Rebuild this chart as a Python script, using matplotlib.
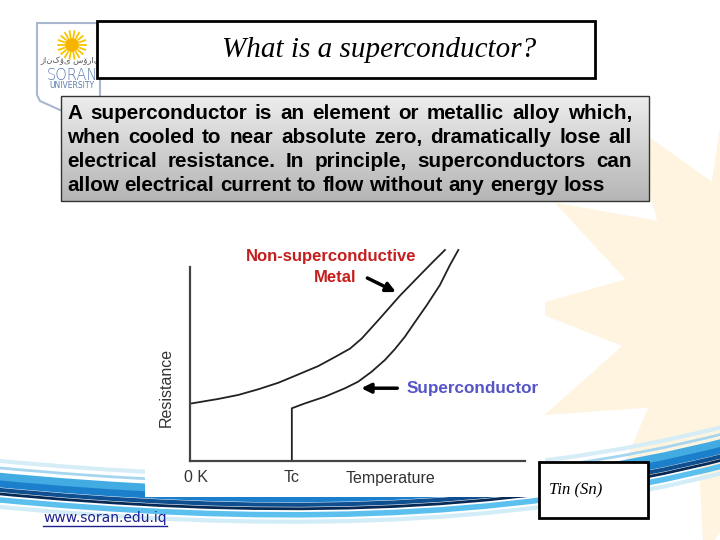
import numpy as np
import matplotlib.pyplot as plt
from matplotlib.patches import Rectangle, Polygon, Circle, PathPatch
from matplotlib.path import Path

# resistance vs temperature (arbitrary units, 0-100)
metal_temp = [0.5, 8.4, 14.4, 20.4, 26.4, 32.3, 38.3, 43.3, 47.8, 51.3, 56.7, 62.7, 68.7, 72.6, 76.1]
metal_res = [27.3, 29.4, 31.3, 34.0, 37.1, 41.0, 45.0, 49.3, 53.3, 58.1, 67.6, 78.4, 88.2, 94.5, 100]

tc = 30.4
super_temp = [tc, tc, 34.3, 40.3, 46.3, 50.2, 54.2, 58.2, 61.2, 64.2, 66.7, 70.7, 74.6, 77.6, 80.1]
super_res = [0, 25.0, 27.3, 30.5, 34.5, 37.6, 42.3, 47.9, 53.1, 59.0, 64.8, 73.9, 83.4, 92.9, 100]

x_labels = ['0 K', 'Tc', 'Temperature']
y_label = 'Resistance'
metal_label = ['Non-superconductive', 'Metal']
super_label = 'Superconductor'

title = 'What is a superconductor?'
body_lines = [
    'A superconductor is an element or metallic alloy which,',
    'when cooled to near absolute zero, dramatically lose all',
    'electrical resistance. In principle, superconductors can',
    'allow electrical current to flow without any energy loss',
]
note = 'Tin (Sn)'
url = 'www.soran.edu.iq'

fig = plt.figure(figsize=(7.2, 5.4), dpi=100)
bg = fig.add_axes([0, 0, 1, 1])
bg.set_xlim(0, 720)
bg.set_ylim(540, 0)
bg.axis('off')

# --- background decoration: pale starburst on the right ---
n = 14
ang = np.linspace(0, 2 * np.pi, 2 * n, endpoint=False) + 0.05
rad = np.where(np.arange(2 * n) % 2 == 0, 245, 150)
star = np.column_stack([770 + rad * np.cos(ang), 320 + rad * np.sin(ang)])
bg.add_patch(Polygon(star, closed=True, fc='#FEF4E0', ec='none', zorder=0))


# --- blue swoosh at the bottom ---
def swoosh(y0, color, lw):
    verts = [(-10, y0), (250, y0 + 25), (500, y0 + 25), (730, y0 - 35)]
    p = Path(verts, [Path.MOVETO, Path.CURVE4, Path.CURVE4, Path.CURVE4])
    bg.add_patch(PathPatch(p, fc='none', ec=color, lw=lw, zorder=1, capstyle='butt'))


for y0, c, lw in [(460, '#d6edf8', 3), (467, '#a6d6ef', 2), (476, '#42ace2', 6),
                  (483, '#1b7fcc', 5), (489, '#0f4f8f', 3), (493, '#062a55', 2),
                  (499, '#5cc0ee', 4), (506, '#d3edf8', 3)]:
    swoosh(y0, c, lw)

# --- logo ---
shield = [(37, 23), (100, 23), (100, 110), (60, 110), (40, 101), (37, 95)]
bg.add_patch(Polygon(shield, closed=True, fc='white', ec='#a9b8cf', lw=1.5, zorder=2))
bg.add_patch(Circle((72, 45), 7, fc='#F6B400', ec='none', zorder=3))
for a in np.linspace(0, 2 * np.pi, 18, endpoint=False):
    bg.plot([72 + 8 * np.cos(a), 72 + 14 * np.cos(a)], [45 + 8 * np.sin(a), 45 + 14 * np.sin(a)],
            color='#F8C400', lw=1.3, zorder=3)
bg.text(70, 61, 'زانکۆی سۆران', fontsize=6, color='#555555', ha='center', va='center',
        family='DejaVu Sans', zorder=3)
bg.text(72, 75, 'SORAN', fontsize=10.5, color='#5a7bb0', ha='center', va='center',
        family='DejaVu Sans', fontweight='light', zorder=3)
bg.text(72, 86, 'UNIVERSITY', fontsize=5.5, color='#5a7bb0', ha='center', va='center',
        family='DejaVu Sans', zorder=3)

# --- title box ---
bg.add_patch(Rectangle((97, 21), 498, 57, fc='white', ec='black', lw=2, zorder=4))
bg.text(379, 50, title, fontsize=21, style='italic', family='Liberation Serif',
        ha='center', va='center', zorder=5)

# --- text box with grey gradient ---
grad = np.linspace(0.93, 0.71, 100).reshape(-1, 1)
bg.imshow(np.dstack([grad, grad, grad]), extent=(61, 649, 201, 96), origin='upper',
          aspect='auto', zorder=4)
bg.add_patch(Rectangle((61, 96), 588, 105, fc='none', ec='#333333', lw=1, zorder=5))
bg.set_xlim(0, 720)
bg.set_ylim(540, 0)

r = fig.canvas.get_renderer()
font = dict(family='Liberation Sans', fontweight='bold', color='black', va='baseline', zorder=6)
probe = bg.text(0, 0, body_lines[-1], fontsize=10, **font)
fs = 10 * 538 / probe.get_window_extent(r).width
probe.remove()
for i, line in enumerate(body_lines):
    words = line.split()
    y = 119 + 24 * i
    texts = [bg.text(0, y, w, fontsize=fs, **font) for w in words]
    widths = [t.get_window_extent(r).width for t in texts]
    target = 565 if i < len(body_lines) - 1 else 538
    gap = (target - sum(widths)) / (len(words) - 1)
    x = 67
    for t, w in zip(texts, widths):
        t.set_x(x)
        x += w + gap

# --- chart area ---
bg.add_patch(Rectangle((145, 230), 400, 267, fc='white', ec='none', zorder=4))

ax = fig.add_axes([190 / 720, (540 - 461) / 540, 335 / 720, 211 / 540])
ax.set_xlim(0, 100)
ax.set_ylim(0, 100)
ax.patch.set_alpha(0)
for s in ['top', 'right']:
    ax.spines[s].set_visible(False)
for s in ['left', 'bottom']:
    ax.spines[s].set_color('#444444')
    ax.spines[s].set_linewidth(1.6)
ax.spines['left'].set_bounds(0, 92)
ax.set_xticks([])
ax.set_yticks([])

ax.plot(metal_temp, metal_res, color='#222222', lw=1.3, clip_on=False)
ax.plot(super_temp, super_res, color='#222222', lw=1.3, clip_on=False)

red = dict(color='#C41E1E', fontsize=12, fontweight='bold', family='Liberation Sans',
           ha='center', va='center')
ax.text(42.1, 96.7, metal_label[0], **red)
ax.text(43.3, 87.2, metal_label[1], **red)
ax.annotate('', xy=(62.2, 79.5), xytext=(52.2, 87.3),
            arrowprops=dict(arrowstyle='-|>', lw=2.5, color='black', mutation_scale=14))
ax.annotate('', xy=(50.3, 34.5), xytext=(62.7, 34.5),
            arrowprops=dict(arrowstyle='-|>', lw=2.5, color='black', mutation_scale=14))
ax.text(64.5, 34.5, super_label, color='#5555C8', fontsize=12.3, fontweight='bold',
        family='Liberation Sans', ha='left', va='center')

lab = dict(fontsize=11.5, color='#333333', family='Liberation Sans', va='center', zorder=6)
bg.text(196, 478, x_labels[0], ha='center', **lab)
bg.text(292, 478, x_labels[1], ha='center', **lab)
bg.text(391, 478, x_labels[2], ha='center', **lab)
bg.text(166, 387, y_label, ha='center', rotation=90, **lab)

# --- note box and url ---
bg.add_patch(Rectangle((539, 462), 109, 56, fc='white', ec='black', lw=2, zorder=6))
bg.text(549, 490, note, fontsize=12, style='italic', family='Liberation Serif',
        ha='left', va='center', zorder=7)
u = bg.text(43, 518, url, fontsize=10, color='#1f1f8f', family='DejaVu Sans',
            ha='left', va='center', zorder=6)
uw = u.get_window_extent(r).width
bg.plot([43, 43 + uw], [526, 526], color='#1f1f8f', lw=1, zorder=6)

fig.savefig('out.png', dpi=100)
